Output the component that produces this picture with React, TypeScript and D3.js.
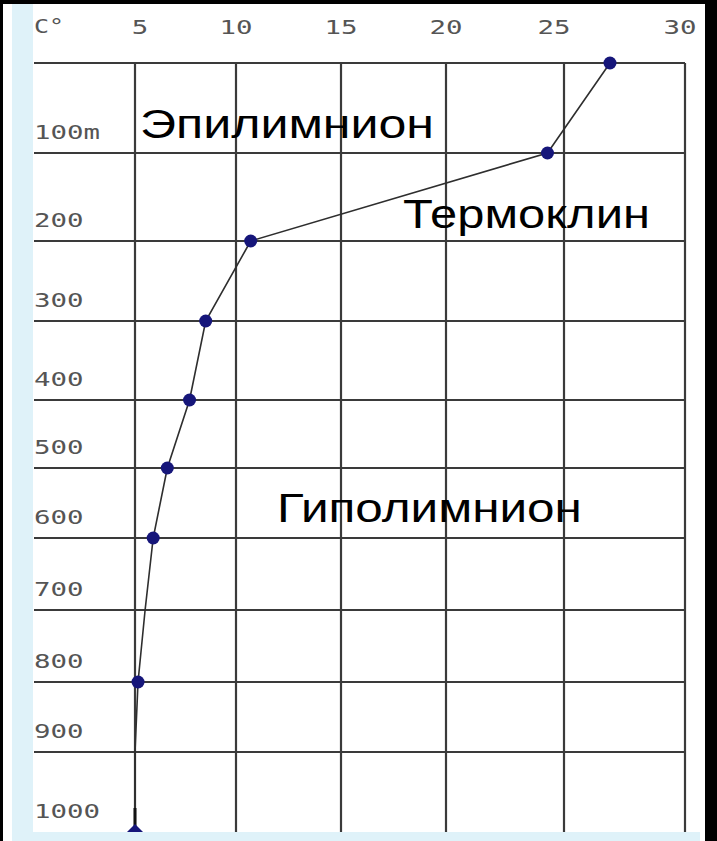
import React from "react";
import * as d3 from "d3";

// ---- data ----
const depthTicks = [0, 100, 200, 300, 400, 500, 600, 700, 800, 900, 1000];
const depthLabels = ["100m", "200", "300", "400", "500", "600", "700", "800", "900", "1000"];
const tempTicks = [0, 5, 10, 15, 20, 25, 30];
const tempLabels = ["5", "10", "15", "20", "25", "30"];
const profileDepth = [0, 100, 200, 300, 400, 500, 600, 700, 800, 900, 1000];
const profileTemp = [26.9, 24.3, 10.7, 8.5, 7.7, 6.6, 5.9, 5.5, 5.15, 5.0, 5.0];
const markerDepth = [0, 100, 200, 300, 400, 500, 600, 800];
const bottomDepth = 1000;
const zoneNames = ["Эпилимнион", "Термоклин", "Гиполимнион"];
const zoneTemp = [5.25, 17.95, 11.95];
const zoneDepth = [83, 185, 577];

const W = 717;
const H = 841;

// the source image has an irregular grid, so the scales are piecewise linear
const x = d3.scaleLinear().domain(tempTicks).range([34, 135, 236, 341, 446, 564, 685]);
const y = d3
  .scaleLinear()
  .domain(depthTicks)
  .range([63, 153, 241, 321, 400, 468, 538, 610, 682, 752, 832]);

const zoneWidths = [294, 247, 305];

export default function App() {
  const pts = profileDepth.map((d, i) => [profileTemp[i], d] as [number, number]);
  const line = d3
    .line<[number, number]>()
    .x((p) => x(p[0]))
    .y((p) => y(p[1]));
  const tempAt = (d: number) => profileTemp[profileDepth.indexOf(d)];
  const bx = x(tempAt(bottomDepth));
  const by = y(bottomDepth);
  const grid = "#3a3a3a";
  const lblFont = "'DejaVu Sans Mono', 'Liberation Mono', monospace";
  const charW = 16.5;
  const lblFill = "#555";

  return (
    <svg
      width={W}
      height={H}
      viewBox={`0 0 ${W} ${H}`}
      style={{ position: "absolute", left: 0, top: 0, display: "block" }}
    >
      <rect x={0} y={0} width={W} height={H} fill="#ffffff" />
      {/* frame */}
      <rect x={12} y={4} width={21} height={H - 4} fill="#dff2f9" />
      <rect x={12} y={832} width={688} height={H - 832} fill="#dff2f9" />
      <rect x={0} y={0} width={W} height={4} fill="#000" />
      <rect x={0} y={0} width={3} height={H} fill="#000" />
      <rect x={705} y={0} width={W - 705} height={H} fill="#000" />

      {/* horizontal grid */}
      {depthTicks.slice(0, -1).map((d) => (
        <line key={"h" + d} x1={x(0)} x2={x(30)} y1={y(d)} y2={y(d)} stroke={grid} strokeWidth={2.2} />
      ))}
      {/* vertical grid */}
      {tempTicks.slice(1).map((t) => (
        <line key={"v" + t} x1={x(t)} x2={x(t)} y1={y(0)} y2={y(1000)} stroke={grid} strokeWidth={2.2} />
      ))}

      {/* axis labels */}
      <text
        x={34}
        y={33}
        fontFamily={lblFont}
        fontSize={20}
        fill={lblFill}
        textLength={2 * 15}
        lengthAdjust="spacingAndGlyphs"
      >
        C°
      </text>
      {tempLabels.map((l, i) => (
        <text
          key={"tx" + l}
          x={x(tempTicks[i + 1]) + (i === 0 ? 5 : i === 4 ? -10 : i === 5 ? -5 : 0)}
          y={34}
          fontFamily={lblFont}
          fontSize={20}
          fill={lblFill}
          textAnchor="middle"
          textLength={l.length * charW}
          lengthAdjust="spacingAndGlyphs"
        >
          {l}
        </text>
      ))}
      {depthLabels.map((l, i) => (
        <text
          key={"ty" + l}
          x={34}
          y={y(depthTicks[i + 1]) - 14}
          fontFamily={lblFont}
          fontSize={20}
          fill={lblFill}
          textLength={l.length * charW}
          lengthAdjust="spacingAndGlyphs"
        >
          {l}
        </text>
      ))}

      {/* zone names */}
      {zoneNames.map((n, i) => (
        <text
          key={n}
          x={x(zoneTemp[i])}
          y={y(zoneDepth[i])}
          fontFamily="'Liberation Sans', Arial, sans-serif"
          fontSize={40}
          fill="#000"
          textLength={zoneWidths[i]}
          lengthAdjust="spacingAndGlyphs"
        >
          {n}
        </text>
      ))}

      {/* profile */}
      <path d={line(pts) || ""} fill="none" stroke="#2e2e2e" strokeWidth={1.6} />
      <line x1={bx} x2={bx} y1={by - 24} y2={by} stroke="#111" strokeWidth={3} />
      {markerDepth.map((d) => (
        <circle key={"m" + d} cx={x(tempAt(d))} cy={y(d)} r={6.5} fill="#16167a" />
      ))}
      <path d={`M${bx - 8},${by}L${bx + 8},${by}L${bx},${by - 8}Z`} fill="#16167a" />
    </svg>
  );
}
